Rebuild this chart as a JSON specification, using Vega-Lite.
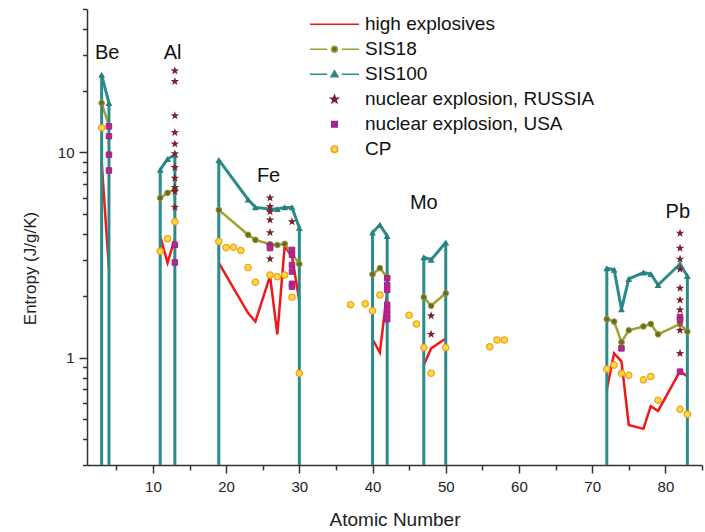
{
  "$schema": "https://vega.github.io/schema/vega-lite/v6.json",
  "width": 615,
  "height": 456,
  "autosize": "none",
  "padding": {"left": 87, "top": 9, "right": 3, "bottom": 67},
  "background": "white",
  "config": {
    "view": {"stroke": null},
    "font": "Liberation Sans",
    "axis": {
      "domainColor": "#333333",
      "domainWidth": 1.5,
      "tickColor": "#333333",
      "tickWidth": 1.5,
      "labelColor": "#222222",
      "titleColor": "#222222",
      "labelFont": "Liberation Sans",
      "titleFont": "Liberation Sans",
      "titleFontWeight": "normal",
      "grid": false
    }
  },
  "resolve": {"axis": {"x": "independent", "y": "independent"}},
  "data": {
    "values": [
      {"series": "high explosives", "group": "Be", "Z": 3, "S": 9.0},
      {"series": "high explosives", "group": "Be", "Z": 4, "S": 2.7},
      {"series": "high explosives", "group": "Al", "Z": 11, "S": 3.9},
      {"series": "high explosives", "group": "Al", "Z": 12, "S": 2.9},
      {"series": "high explosives", "group": "Al", "Z": 13, "S": 3.8},
      {"series": "high explosives", "group": "Fe", "Z": 19, "S": 2.9},
      {"series": "high explosives", "group": "Fe", "Z": 23, "S": 1.65},
      {"series": "high explosives", "group": "Fe", "Z": 24, "S": 1.5},
      {"series": "high explosives", "group": "Fe", "Z": 26, "S": 2.5},
      {"series": "high explosives", "group": "Fe", "Z": 27, "S": 1.3},
      {"series": "high explosives", "group": "Fe", "Z": 28, "S": 3.5},
      {"series": "high explosives", "group": "Fe", "Z": 29, "S": 3.1},
      {"series": "high explosives", "group": "Fe", "Z": 30, "S": 1.9},
      {"series": "high explosives", "group": "Mo", "Z": 40, "S": 1.23},
      {"series": "high explosives", "group": "Mo", "Z": 41, "S": 1.06},
      {"series": "high explosives", "group": "Mo", "Z": 42, "S": 2.1},
      {"series": "high explosives", "group": "Sn", "Z": 47, "S": 0.92},
      {"series": "high explosives", "group": "Sn", "Z": 48, "S": 1.11},
      {"series": "high explosives", "group": "Sn", "Z": 50, "S": 1.24},
      {"series": "high explosives", "group": "Pb", "Z": 72, "S": 0.7},
      {"series": "high explosives", "group": "Pb", "Z": 73, "S": 1.05},
      {"series": "high explosives", "group": "Pb", "Z": 74, "S": 0.96},
      {"series": "high explosives", "group": "Pb", "Z": 75, "S": 0.47},
      {"series": "high explosives", "group": "Pb", "Z": 77, "S": 0.45},
      {"series": "high explosives", "group": "Pb", "Z": 78, "S": 0.58},
      {"series": "high explosives", "group": "Pb", "Z": 79, "S": 0.55},
      {"series": "high explosives", "group": "Pb", "Z": 82, "S": 0.86},
      {"series": "high explosives", "group": "Pb", "Z": 83, "S": 0.81},

      {"series": "SIS18", "group": "Be", "Z": 3, "S": 17.4},
      {"series": "SIS18", "group": "Be", "Z": 4, "S": 13.5},
      {"series": "SIS18", "group": "Al", "Z": 11, "S": 6.0},
      {"series": "SIS18", "group": "Al", "Z": 12, "S": 6.35},
      {"series": "SIS18", "group": "Al", "Z": 13, "S": 6.6},
      {"series": "SIS18", "group": "Fe", "Z": 19, "S": 5.25},
      {"series": "SIS18", "group": "Fe", "Z": 23, "S": 3.97},
      {"series": "SIS18", "group": "Fe", "Z": 24, "S": 3.75},
      {"series": "SIS18", "group": "Fe", "Z": 26, "S": 3.57},
      {"series": "SIS18", "group": "Fe", "Z": 27, "S": 3.54},
      {"series": "SIS18", "group": "Fe", "Z": 28, "S": 3.59},
      {"series": "SIS18", "group": "Fe", "Z": 30, "S": 2.86},
      {"series": "SIS18", "group": "Mo", "Z": 40, "S": 2.55},
      {"series": "SIS18", "group": "Mo", "Z": 41, "S": 2.73},
      {"series": "SIS18", "group": "Mo", "Z": 42, "S": 2.47},
      {"series": "SIS18", "group": "Sn", "Z": 47, "S": 1.97},
      {"series": "SIS18", "group": "Sn", "Z": 48, "S": 1.79},
      {"series": "SIS18", "group": "Sn", "Z": 50, "S": 2.06},
      {"series": "SIS18", "group": "Pb", "Z": 72, "S": 1.54},
      {"series": "SIS18", "group": "Pb", "Z": 73, "S": 1.5},
      {"series": "SIS18", "group": "Pb", "Z": 74, "S": 1.19},
      {"series": "SIS18", "group": "Pb", "Z": 75, "S": 1.36},
      {"series": "SIS18", "group": "Pb", "Z": 77, "S": 1.42},
      {"series": "SIS18", "group": "Pb", "Z": 78, "S": 1.46},
      {"series": "SIS18", "group": "Pb", "Z": 79, "S": 1.3},
      {"series": "SIS18", "group": "Pb", "Z": 82, "S": 1.46},
      {"series": "SIS18", "group": "Pb", "Z": 83, "S": 1.34},

      {"series": "SIS100", "group": "Be", "Z": 3, "S": 23.9},
      {"series": "SIS100", "group": "Be", "Z": 4, "S": 17.4},
      {"series": "SIS100", "group": "Al", "Z": 11, "S": 8.24},
      {"series": "SIS100", "group": "Al", "Z": 12, "S": 9.29},
      {"series": "SIS100", "group": "Al", "Z": 13, "S": 9.75},
      {"series": "SIS100", "group": "Fe", "Z": 19, "S": 9.2},
      {"series": "SIS100", "group": "Fe", "Z": 23, "S": 5.9},
      {"series": "SIS100", "group": "Fe", "Z": 24, "S": 5.4},
      {"series": "SIS100", "group": "Fe", "Z": 26, "S": 5.3},
      {"series": "SIS100", "group": "Fe", "Z": 27, "S": 5.3},
      {"series": "SIS100", "group": "Fe", "Z": 28, "S": 5.4},
      {"series": "SIS100", "group": "Fe", "Z": 29, "S": 5.4},
      {"series": "SIS100", "group": "Fe", "Z": 30, "S": 4.3},
      {"series": "SIS100", "group": "Mo", "Z": 40, "S": 4.07},
      {"series": "SIS100", "group": "Mo", "Z": 41, "S": 4.44},
      {"series": "SIS100", "group": "Mo", "Z": 42, "S": 3.92},
      {"series": "SIS100", "group": "Sn", "Z": 47, "S": 3.09},
      {"series": "SIS100", "group": "Sn", "Z": 48, "S": 3.0},
      {"series": "SIS100", "group": "Sn", "Z": 50, "S": 3.64},
      {"series": "SIS100", "group": "Pb", "Z": 72, "S": 2.73},
      {"series": "SIS100", "group": "Pb", "Z": 73, "S": 2.68},
      {"series": "SIS100", "group": "Pb", "Z": 74, "S": 1.72},
      {"series": "SIS100", "group": "Pb", "Z": 75, "S": 2.42},
      {"series": "SIS100", "group": "Pb", "Z": 77, "S": 2.6},
      {"series": "SIS100", "group": "Pb", "Z": 78, "S": 2.56},
      {"series": "SIS100", "group": "Pb", "Z": 79, "S": 2.26},
      {"series": "SIS100", "group": "Pb", "Z": 82, "S": 2.86},
      {"series": "SIS100", "group": "Pb", "Z": 83, "S": 2.5},

      {"series": "nuclear explosion, RUSSIA", "group": "Al", "Z": 13, "S": 25.0},
      {"series": "nuclear explosion, RUSSIA", "group": "Al", "Z": 13, "S": 22.2},
      {"series": "nuclear explosion, RUSSIA", "group": "Al", "Z": 13, "S": 15.1},
      {"series": "nuclear explosion, RUSSIA", "group": "Al", "Z": 13, "S": 12.5},
      {"series": "nuclear explosion, RUSSIA", "group": "Al", "Z": 13, "S": 11.0},
      {"series": "nuclear explosion, RUSSIA", "group": "Al", "Z": 13, "S": 9.86},
      {"series": "nuclear explosion, RUSSIA", "group": "Al", "Z": 13, "S": 8.45},
      {"series": "nuclear explosion, RUSSIA", "group": "Al", "Z": 13, "S": 7.5},
      {"series": "nuclear explosion, RUSSIA", "group": "Al", "Z": 13, "S": 6.75},
      {"series": "nuclear explosion, RUSSIA", "group": "Al", "Z": 13, "S": 6.45},
      {"series": "nuclear explosion, RUSSIA", "group": "Al", "Z": 13, "S": 5.41},
      {"series": "nuclear explosion, RUSSIA", "group": "Fe", "Z": 26, "S": 6.0},
      {"series": "nuclear explosion, RUSSIA", "group": "Fe", "Z": 26, "S": 5.45},
      {"series": "nuclear explosion, RUSSIA", "group": "Fe", "Z": 26, "S": 5.15},
      {"series": "nuclear explosion, RUSSIA", "group": "Fe", "Z": 26, "S": 4.69},
      {"series": "nuclear explosion, RUSSIA", "group": "Fe", "Z": 26, "S": 4.07},
      {"series": "nuclear explosion, RUSSIA", "group": "Fe", "Z": 26, "S": 3.51},
      {"series": "nuclear explosion, RUSSIA", "group": "Fe", "Z": 26, "S": 3.03},
      {"series": "nuclear explosion, RUSSIA", "group": "Fe", "Z": 29, "S": 4.6},
      {"series": "nuclear explosion, RUSSIA", "group": "Sn", "Z": 48, "S": 1.6},
      {"series": "nuclear explosion, RUSSIA", "group": "Sn", "Z": 48, "S": 1.3},
      {"series": "nuclear explosion, RUSSIA", "group": "Pb", "Z": 82, "S": 4.04},
      {"series": "nuclear explosion, RUSSIA", "group": "Pb", "Z": 82, "S": 3.42},
      {"series": "nuclear explosion, RUSSIA", "group": "Pb", "Z": 82, "S": 3.02},
      {"series": "nuclear explosion, RUSSIA", "group": "Pb", "Z": 82, "S": 2.7},
      {"series": "nuclear explosion, RUSSIA", "group": "Pb", "Z": 82, "S": 2.18},
      {"series": "nuclear explosion, RUSSIA", "group": "Pb", "Z": 82, "S": 1.91},
      {"series": "nuclear explosion, RUSSIA", "group": "Pb", "Z": 82, "S": 1.71},
      {"series": "nuclear explosion, RUSSIA", "group": "Pb", "Z": 82, "S": 1.36},
      {"series": "nuclear explosion, RUSSIA", "group": "Pb", "Z": 82, "S": 1.05},

      {"series": "nuclear explosion, USA", "group": "Be", "Z": 4, "S": 13.4},
      {"series": "nuclear explosion, USA", "group": "Be", "Z": 4, "S": 12.0},
      {"series": "nuclear explosion, USA", "group": "Be", "Z": 4, "S": 9.75},
      {"series": "nuclear explosion, USA", "group": "Be", "Z": 4, "S": 8.17},
      {"series": "nuclear explosion, USA", "group": "Al", "Z": 13, "S": 3.55},
      {"series": "nuclear explosion, USA", "group": "Al", "Z": 13, "S": 2.91},
      {"series": "nuclear explosion, USA", "group": "Fe", "Z": 26, "S": 3.5},
      {"series": "nuclear explosion, USA", "group": "Fe", "Z": 26, "S": 3.42},
      {"series": "nuclear explosion, USA", "group": "Fe", "Z": 29, "S": 3.35},
      {"series": "nuclear explosion, USA", "group": "Fe", "Z": 29, "S": 3.17},
      {"series": "nuclear explosion, USA", "group": "Fe", "Z": 29, "S": 2.83},
      {"series": "nuclear explosion, USA", "group": "Fe", "Z": 29, "S": 2.63},
      {"series": "nuclear explosion, USA", "group": "Fe", "Z": 29, "S": 2.29},
      {"series": "nuclear explosion, USA", "group": "Fe", "Z": 29, "S": 2.22},
      {"series": "nuclear explosion, USA", "group": "Mo", "Z": 42, "S": 2.44},
      {"series": "nuclear explosion, USA", "group": "Mo", "Z": 42, "S": 2.26},
      {"series": "nuclear explosion, USA", "group": "Mo", "Z": 42, "S": 2.14},
      {"series": "nuclear explosion, USA", "group": "Mo", "Z": 42, "S": 1.81},
      {"series": "nuclear explosion, USA", "group": "Mo", "Z": 42, "S": 1.71},
      {"series": "nuclear explosion, USA", "group": "Mo", "Z": 42, "S": 1.62},
      {"series": "nuclear explosion, USA", "group": "Mo", "Z": 42, "S": 1.54},
      {"series": "nuclear explosion, USA", "group": "Pb", "Z": 74, "S": 1.11},
      {"series": "nuclear explosion, USA", "group": "Pb", "Z": 82, "S": 1.58},
      {"series": "nuclear explosion, USA", "group": "Pb", "Z": 82, "S": 1.53},
      {"series": "nuclear explosion, USA", "group": "Pb", "Z": 82, "S": 0.855},

      {"series": "CP", "group": "Be", "Z": 3, "S": 13.2},
      {"series": "CP", "group": "Al", "Z": 11, "S": 3.3},
      {"series": "CP", "group": "Al", "Z": 12, "S": 3.8},
      {"series": "CP", "group": "Al", "Z": 13, "S": 4.6},
      {"series": "CP", "group": "Fe", "Z": 19, "S": 3.68},
      {"series": "CP", "group": "Fe", "Z": 20, "S": 3.44},
      {"series": "CP", "group": "Fe", "Z": 21, "S": 3.45},
      {"series": "CP", "group": "Fe", "Z": 22, "S": 3.33},
      {"series": "CP", "group": "Fe", "Z": 23, "S": 2.75},
      {"series": "CP", "group": "Fe", "Z": 24, "S": 2.33},
      {"series": "CP", "group": "Fe", "Z": 26, "S": 2.53},
      {"series": "CP", "group": "Fe", "Z": 27, "S": 2.48},
      {"series": "CP", "group": "Fe", "Z": 28, "S": 2.53},
      {"series": "CP", "group": "Fe", "Z": 29, "S": 1.97},
      {"series": "CP", "group": "Fe", "Z": 30, "S": 0.84},
      {"series": "CP", "group": "Mo", "Z": 37, "S": 1.81},
      {"series": "CP", "group": "Mo", "Z": 39, "S": 1.83},
      {"series": "CP", "group": "Mo", "Z": 40, "S": 1.69},
      {"series": "CP", "group": "Mo", "Z": 41, "S": 2.02},
      {"series": "CP", "group": "Sn", "Z": 45, "S": 1.61},
      {"series": "CP", "group": "Sn", "Z": 46, "S": 1.46},
      {"series": "CP", "group": "Sn", "Z": 47, "S": 1.12},
      {"series": "CP", "group": "Sn", "Z": 48, "S": 0.84},
      {"series": "CP", "group": "Sn", "Z": 50, "S": 1.12},
      {"series": "CP", "group": "Sn", "Z": 56, "S": 1.13},
      {"series": "CP", "group": "Sn", "Z": 57, "S": 1.22},
      {"series": "CP", "group": "Sn", "Z": 58, "S": 1.22},
      {"series": "CP", "group": "Pb", "Z": 72, "S": 0.88},
      {"series": "CP", "group": "Pb", "Z": 73, "S": 0.92},
      {"series": "CP", "group": "Pb", "Z": 74, "S": 0.84},
      {"series": "CP", "group": "Pb", "Z": 75, "S": 0.82},
      {"series": "CP", "group": "Pb", "Z": 77, "S": 0.78},
      {"series": "CP", "group": "Pb", "Z": 78, "S": 0.81},
      {"series": "CP", "group": "Pb", "Z": 79, "S": 0.62},
      {"series": "CP", "group": "Pb", "Z": 82, "S": 0.56},
      {"series": "CP", "group": "Pb", "Z": 83, "S": 0.53}
    ]
  },
  "encoding": {
    "x": {
      "field": "Z",
      "type": "quantitative",
      "scale": {"domain": [1, 85], "nice": false, "zero": false},
      "axis": null
    },
    "y": {
      "field": "S",
      "type": "quantitative",
      "scale": {"type": "log", "domain": [0.3, 50], "nice": false},
      "axis": null
    }
  },
  "layer": [
    {
      "transform": [{"filter": "datum.series == 'high explosives'"}],
      "mark": {"type": "line", "color": "#f01818", "strokeWidth": 2.5},
      "encoding": {
        "x": {
          "field": "Z",
          "type": "quantitative",
          "scale": {"domain": [1, 85], "nice": false, "zero": false},
          "axis": {
            "orient": "bottom",
            "title": "Atomic Number",
            "titleFontSize": 19,
            "titlePadding": 16,
            "labelFontSize": 15,
            "labelPadding": 6,
            "tickSize": 8,
            "values": [10, 20, 30, 40, 50, 60, 70, 80]
          }
        },
        "y": {
          "field": "S",
          "type": "quantitative",
          "scale": {"type": "log", "domain": [0.3, 50], "nice": false},
          "axis": {
            "orient": "left",
            "title": "Entropy (J/g/K)",
            "titleFontSize": 17,
            "titlePadding": 18,
            "titleY": 259,
            "labelFontSize": 15,
            "labelPadding": 5,
            "tickSize": 8,
            "values": [1, 10]
          }
        },
        "detail": {"field": "group"}
      }
    },
    {
      "transform": [{"filter": "datum.series == 'SIS18'"}],
      "mark": {"type": "line", "color": "#a0a032", "strokeWidth": 2.5},
      "encoding": {
        "x": {
          "field": "Z",
          "type": "quantitative",
          "scale": {"domain": [1, 85], "nice": false, "zero": false},
          "axis": {
            "orient": "bottom",
            "title": null,
            "labels": false,
            "domain": false,
            "tickSize": 5,
            "values": [5, 15, 25, 35, 45, 55, 65, 75, 85]
          }
        },
        "y": {
          "field": "S",
          "type": "quantitative",
          "scale": {"type": "log", "domain": [0.3, 50], "nice": false},
          "axis": {
            "orient": "left",
            "title": null,
            "labels": false,
            "domain": false,
            "tickSize": 4.5,
            "values": [0.3, 0.4, 0.5, 0.6, 0.7, 0.8, 0.9, 2, 3, 4, 5, 6, 7, 8, 9, 20, 30, 40, 50]
          }
        },
        "detail": {"field": "group"}
      }
    },
    {
      "transform": [{"filter": "datum.series == 'SIS100'"}],
      "mark": {"type": "line", "color": "#2a8b8b", "strokeWidth": 3},
      "encoding": {"detail": {"field": "group"}}
    },
    {
      "transform": [
        {"filter": "datum.series == 'SIS100'"},
        {"joinaggregate": [{"op": "min", "field": "Z", "as": "zmin"}, {"op": "max", "field": "Z", "as": "zmax"}], "groupby": ["group"]},
        {"filter": "datum.Z == datum.zmin || datum.Z == datum.zmax"}
      ],
      "mark": {"type": "rule", "color": "#2a8b8b", "strokeWidth": 3},
      "encoding": {"y2": {"datum": 0.3}}
    },
    {
      "transform": [{"filter": "datum.series == 'SIS18'"}],
      "mark": {"type": "point", "shape": "circle", "filled": true, "size": 32, "fill": "#6a6a28", "stroke": "#9a9a30", "strokeWidth": 1, "opacity": 1}
    },
    {
      "transform": [{"filter": "datum.series == 'SIS100'"}],
      "mark": {"type": "point", "shape": "triangle-up", "filled": true, "size": 48, "fill": "#2a7f7f", "opacity": 1}
    },
    {
      "transform": [{"filter": "datum.series == 'nuclear explosion, RUSSIA'"}],
      "mark": {"type": "point", "shape": "M0,-1L0.235,-0.324L0.951,-0.309L0.38,0.124L0.588,0.809L0,0.4L-0.588,0.809L-0.38,0.124L-0.951,-0.309L-0.235,-0.324Z", "filled": true, "size": 80, "fill": "#7d1f30", "opacity": 1}
    },
    {
      "transform": [{"filter": "datum.series == 'nuclear explosion, USA'"}],
      "mark": {"type": "point", "shape": "square", "filled": true, "size": 30, "fill": "#c8207a", "stroke": "#8a2a9a", "strokeWidth": 1, "opacity": 1}
    },
    {
      "transform": [{"filter": "datum.series == 'CP'"}],
      "mark": {"type": "point", "shape": "circle", "filled": true, "size": 40, "fill": "#ffd93d", "stroke": "#f0a020", "strokeWidth": 1.3, "opacity": 1}
    },
    {
      "data": {
        "values": [
          {"element": "Be", "Z": 3.75, "S": 30.6},
          {"element": "Al", "Z": 12.7, "S": 30.6},
          {"element": "Fe", "Z": 25.8, "S": 7.64},
          {"element": "Mo", "Z": 47.0, "S": 5.67},
          {"element": "Pb", "Z": 81.7, "S": 5.11}
        ]
      },
      "mark": {"type": "text", "fontSize": 20, "font": "Liberation Sans", "color": "#111111", "align": "center", "baseline": "middle"},
      "encoding": {"text": {"field": "element"}}
    },
    {
      "transform": [{"filter": "datum.Z < 0"}],
      "mark": {"type": "point", "filled": true, "opacity": 1},
      "encoding": {
        "shape": {
          "field": "series",
          "type": "nominal",
          "scale": {
            "domain": ["high explosives", "SIS18", "SIS100", "nuclear explosion, RUSSIA", "nuclear explosion, USA", "CP"],
            "range": [
              "M-1,0H1",
              "M-1,0H-0.3M0.3,0H1M-0.12,0a0.12,0.12 0 1,0 0.24,0a0.12,0.12 0 1,0 -0.24,0",
              "M-1,0H-0.3M0.3,0H1M0,-0.14L0.14,0.1L-0.14,0.1Z",
              "M0,-0.15L0.035,-0.049L0.143,-0.046L0.057,0.019L0.088,0.121L0,0.06L-0.088,0.121L-0.057,0.019L-0.143,-0.046L-0.035,-0.049Z",
              "M-0.11,-0.11H0.11V0.11H-0.11Z",
              "M-0.13,0a0.13,0.13 0 1,0 0.26,0a0.13,0.13 0 1,0 -0.26,0"
            ]
          },
          "legend": {
            "title": null,
            "orient": "none",
            "legendX": 222,
            "legendY": 3,
            "padding": 0,
            "rowPadding": 0,
            "symbolSize": 2400,
            "clipHeight": 24.5,
            "symbolStrokeWidth": 1.6,
            "labelFontSize": 19,
            "labelFont": "Liberation Sans",
            "labelColor": "#111111",
            "labelOffset": 5,
            "labelLimit": 400
          }
        },
        "fill": {
          "field": "series",
          "type": "nominal",
          "scale": {
            "domain": ["high explosives", "SIS18", "SIS100", "nuclear explosion, RUSSIA", "nuclear explosion, USA", "CP"],
            "range": ["#f01818", "#6a6a28", "#2a7f7f", "#7d1f30", "#c8207a", "#ffd93d"]
          },
          "legend": {"title": null}
        },
        "stroke": {
          "field": "series",
          "type": "nominal",
          "scale": {
            "domain": ["high explosives", "SIS18", "SIS100", "nuclear explosion, RUSSIA", "nuclear explosion, USA", "CP"],
            "range": ["#f01818", "#a0a032", "#2a8b8b", "#7d1f30", "#8a2a9a", "#f0a020"]
          },
          "legend": {"title": null}
        }
      }
    }
  ]
}
